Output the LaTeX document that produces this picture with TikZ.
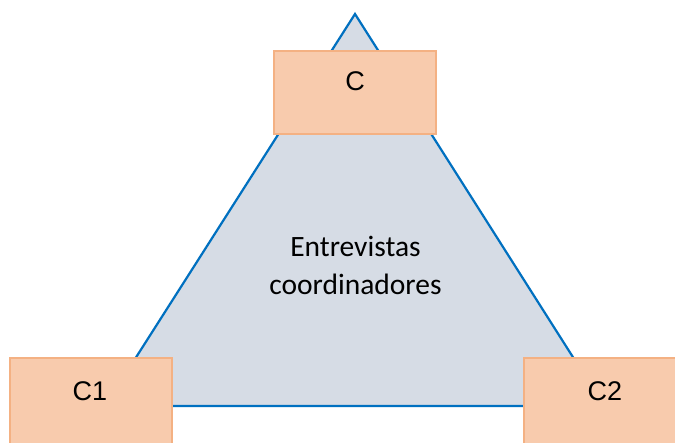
\documentclass[tikz,border=0pt]{standalone}
\usepackage{fontspec}
\setmainfont{Liberation Sans}
\newfontfamily\calfont{Carlito}
\definecolor{triblue}{HTML}{0070C0}
\definecolor{trifill}{HTML}{D6DCE5}
\definecolor{boxfill}{HTML}{F8CBAD}
\definecolor{boxline}{HTML}{F4B183}
\tikzset{
  tri/.style={draw=triblue, fill=trifill, line width=2.2pt, line join=miter},
  cbox/.style={draw=boxline, fill=boxfill, line width=2pt, rectangle, inner sep=0pt},
  clabel/.style={anchor=base, inner sep=0pt, font=\fontsize{27}{31}\selectfont},
  center text/.style={anchor=base, inner sep=0pt, align=center, font=\calfont\fontsize{29.5}{38}\selectfont}
}
\begin{document}
\begin{tikzpicture}[x=1pt,y=-1pt]
\useasboundingbox (0,0) rectangle (675,443);
\clip (0,0) rectangle (675,443);
\fill[white] (0,0) rectangle (675,443);
\coordinate (apex) at (355,14);
\coordinate (bl) at (105,406);
\coordinate (br) at (604,406);
\draw[tri] (apex) -- (bl) -- (br) -- cycle;
\node[center text] (txt) at (355.5,295) {Entrevistas\\coordinadores};
\node[cbox, minimum width=162pt, minimum height=83pt] (C) at (355,92.5) {};
\node[clabel] (Cl) at (355,90.5) {C};
\node[cbox, minimum width=162pt, minimum height=100pt] (C1) at (91,408) {};
\node[clabel] (C1l) at (90,401) {C1};
\node[cbox, minimum width=162pt, minimum height=100pt] (C2) at (605,408) {};
\node[clabel] (C2l) at (605,401) {C2};
\end{tikzpicture}
\end{document}
